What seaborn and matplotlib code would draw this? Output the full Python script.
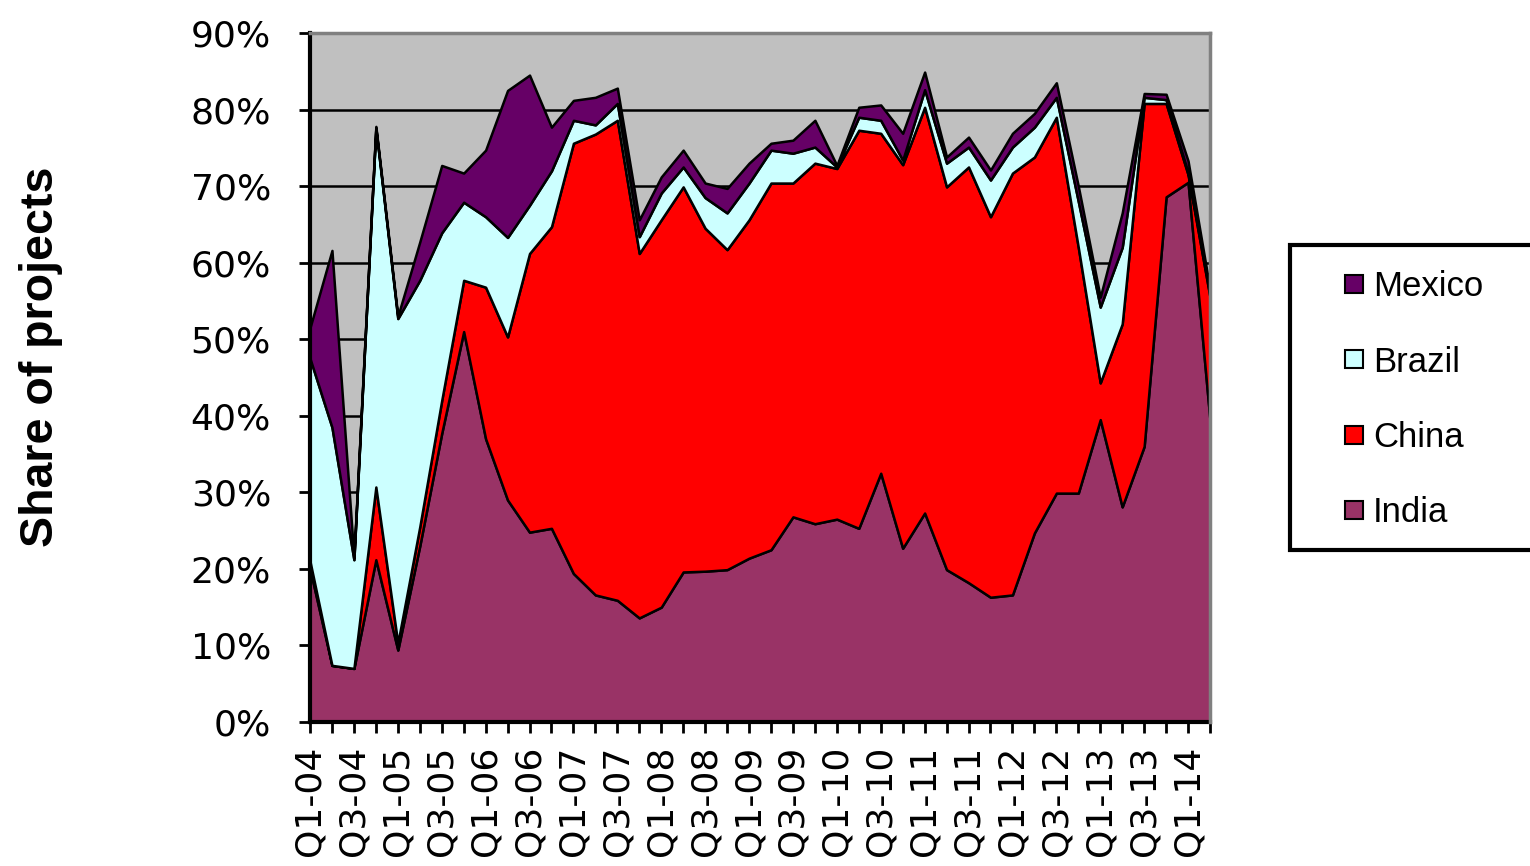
import matplotlib
matplotlib.use("Agg")
import matplotlib.pyplot as plt
from matplotlib.lines import Line2D
from matplotlib.patches import Rectangle
from matplotlib.ticker import FixedLocator, FuncFormatter
import numpy as np
import pandas as pd
import seaborn as sns

# Quarterly categories, Q1-04 .. Q2-14
quarters = [f"Q{q}-{y:02d}" for y in range(4, 15) for q in range(1, 5)][:42]

# Share of projects by country (%), stacked bottom to top
india = [20.0, 7.4, 7.0, 21.2, 9.4, 23.0, 37.7, 51.0, 37.0, 29.0,
         24.8, 25.3, 19.4, 16.6, 15.9, 13.6, 15.0, 19.6, 19.7, 19.9,
         21.4, 22.5, 26.8, 25.9, 26.5, 25.3, 32.5, 22.7, 27.3, 19.9,
         18.2, 16.3, 16.6, 24.7, 29.9, 29.9, 39.5, 28.1, 36.0, 68.6,
         70.5, 39.4]
china = [1.0, 0.0, 0.0, 9.5, 0.9, 2.5, 4.3, 6.7, 19.8, 21.3,
         36.4, 39.4, 56.2, 60.2, 62.7, 47.6, 50.6, 50.3, 44.8, 41.8,
         44.2, 47.9, 43.6, 47.1, 45.8, 52.0, 44.4, 50.1, 53.0, 50.0,
         54.3, 49.7, 55.1, 49.1, 49.1, 32.1, 4.8, 23.9, 44.8, 12.2,
         1.0, 16.1]
brazil = [26.5, 31.1, 14.2, 46.9, 42.4, 32.2, 21.9, 10.2, 9.2, 13.0,
          6.3, 7.3, 3.0, 1.2, 2.2, 2.2, 3.5, 2.6, 4.0, 4.8,
          4.8, 4.3, 3.9, 2.1, 0.2, 1.7, 1.7, 0.6, 2.3, 3.1,
          2.6, 4.8, 3.4, 3.9, 2.6, 6.0, 9.9, 10.0, 0.8, 0.5,
          0.3, 0.5]
mexico = [4.0, 23.1, 0.3, 0.2, 0.3, 5.0, 8.8, 3.8, 8.7, 19.2,
          17.0, 5.7, 2.6, 3.6, 2.0, 2.2, 2.1, 2.2, 1.9, 3.2,
          2.6, 0.9, 1.7, 3.5, 0.2, 1.3, 2.0, 3.5, 2.3, 0.8,
          1.3, 1.3, 1.8, 1.8, 1.9, 2.0, 1.3, 4.5, 0.5, 0.7,
          1.5, 0.5]

countries = ["India", "China", "Brazil", "Mexico"]
colors = {"India": "#993366", "China": "#FF0000",
          "Brazil": "#CCFFFF", "Mexico": "#660066"}
y_ticks = [0, 10, 20, 30, 40, 50, 60, 70, 80, 90]

df = pd.DataFrame({"quarter": quarters, "India": india, "China": china,
                   "Brazil": brazil, "Mexico": mexico})

sns.set_theme(style="white")
plt.rcParams["font.family"] = ["Liberation Sans", "DejaVu Sans"]
plt.rcParams.update({"text.color": "black", "axes.labelcolor": "black",
                     "xtick.color": "black", "ytick.color": "black"})

fig = plt.figure(figsize=(15.3, 8.66), dpi=100)
ax = fig.add_axes([310 / 1530, 1 - 722 / 866, 900 / 1530, 689 / 866])
ax.set_facecolor("#C0C0C0")

x = np.arange(len(df))
ax.stackplot(x, *[df[c].values for c in countries],
             colors=[colors[c] for c in countries],
             edgecolor="black", linewidth=1.8, zorder=2)

ax.set_xlim(0, len(df) - 1)
ax.set_ylim(0, 90)

# gridlines
ax.set_axisbelow(True)
ax.yaxis.grid(True, color="black", linewidth=1.8)
ax.xaxis.grid(False)

ax.yaxis.set_major_locator(FixedLocator(y_ticks))
ax.yaxis.set_major_formatter(FuncFormatter(lambda v, p: f"{v:.0f}%"))
ax.xaxis.set_major_locator(FixedLocator(x))
ax.set_xticklabels([q if i % 2 == 0 else "" for i, q in enumerate(df["quarter"])],
                   rotation=90)
ax.tick_params(axis="both", which="major", direction="out", length=8, width=2,
               color="black", labelcolor="black", bottom=True, left=True)
ax.tick_params(axis="y", labelsize=26, pad=20)
ax.tick_params(axis="x", labelsize=26, pad=9)
for lbl in ax.get_xticklabels() + ax.get_yticklabels():
    lbl.set_family("DejaVu Sans")

for side in ["left", "bottom"]:
    ax.spines[side].set_color("black")
    ax.spines[side].set_linewidth(3)
for side in ["top", "right"]:
    ax.spines[side].set_color("#808080")
    ax.spines[side].set_linewidth(2.5)
    ax.spines[side].set_zorder(3)

ax.set_ylabel("Share of projects", fontsize=33.5, fontweight="bold", color="black")
ax.yaxis.set_label_coords((63 - 310) / 900, (722 - 357) / 689)

# legend box, running off the right edge
fig.patches.append(Rectangle((1290 / 1530, 1 - 550 / 866), 260 / 1530, 305 / 866,
                             transform=fig.transFigure, facecolor="white",
                             edgecolor="black", linewidth=3, zorder=1))
handles = [Line2D([0], [0], marker="s", linestyle="none", markersize=13,
                  markerfacecolor=colors[c], markeredgecolor="black",
                  markeredgewidth=1.5) for c in countries[::-1]]
leg = fig.legend(handles, countries[::-1], loc="upper left",
                 bbox_to_anchor=(1312 / 1530, 1 - 239 / 866), frameon=False,
                 fontsize=25, labelspacing=1.22, handlelength=0.6,
                 handletextpad=0.25)
for t in leg.get_texts():
    t.set_color("black")

fig.savefig("out.png", dpi=100)
